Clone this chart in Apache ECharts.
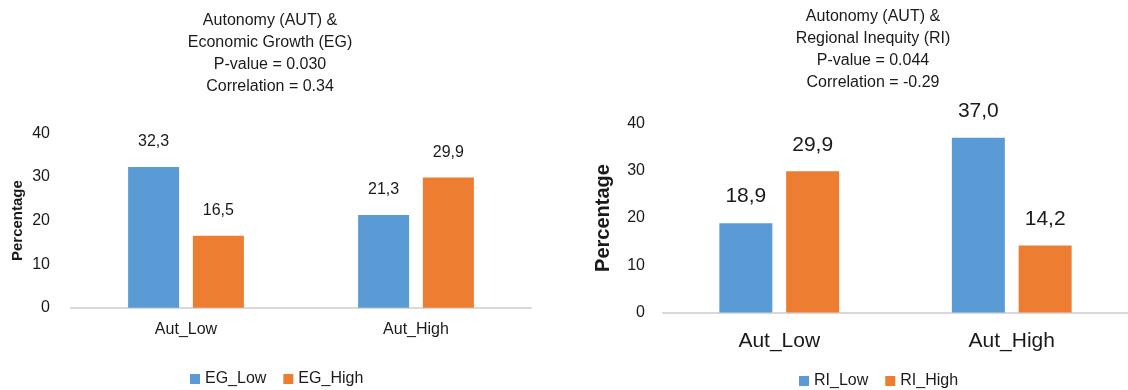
<!DOCTYPE html>
<html>
<head>
<meta charset="utf-8">
<script src="https://cdn.jsdelivr.net/npm/echarts@6/dist/echarts.min.js"></script>
<style>
  html, body { margin: 0; padding: 0; background: #fff; }
  #chart { width: 1128px; height: 390px; }
</style>
</head>
<body>
<div id="chart"></div>
<script>
// Shared categories for both panels
const categories = ['Aut_Low', 'Aut_High'];

// Panel 1: Autonomy vs Economic Growth
const egLow = [32.3, 21.3];
const egHigh = [16.5, 29.9];
const egTitle = ['Autonomy (AUT) &', 'Economic Growth (EG)', 'P-value = 0.030', 'Correlation = 0.34'];

// Panel 2: Autonomy vs Regional Inequity
const riLow = [18.9, 37.0];
const riHigh = [29.9, 14.2];
const riTitle = ['Autonomy (AUT) &', 'Regional Inequity (RI)', 'P-value = 0.044', 'Correlation = -0.29'];

const yTicks = { min: 0, max: 40, interval: 10 };

const FONT = "'Liberation Sans', Arial, sans-serif";
const BLUE = '#5B9BD5';
const ORANGE = '#ED7D31';
const TEXT = '#1a1a1a';

const commaFmt = p => p.value.toFixed(1).replace('.', ',');

function xAxis(gridIndex, fontSize, margin) {
  return {
    type: 'category', gridIndex, data: categories,
    axisLine: { lineStyle: { color: '#d9d9d9', width: 2 } },
    axisTick: { show: false },
    axisLabel: { color: TEXT, fontFamily: FONT, fontSize, margin }
  };
}
function yAxis(gridIndex, nameSize, nameGap, margin) {
  return {
    type: 'value', gridIndex, min: yTicks.min, max: yTicks.max, interval: yTicks.interval,
    name: 'Percentage', nameLocation: 'middle', nameGap,
    nameTextStyle: { color: TEXT, fontFamily: FONT, fontSize: nameSize, fontWeight: 'bold' },
    axisLine: { show: false }, axisTick: { show: false }, splitLine: { show: false },
    axisLabel: { color: TEXT, fontFamily: FONT, fontSize: 16, margin }
  };
}
function bar(name, data, color, idx, width, gap, labelSize, dist) {
  return {
    type: 'bar', name, data, xAxisIndex: idx, yAxisIndex: idx,
    barWidth: width, barGap: gap,
    itemStyle: { color },
    label: { show: true, position: 'top', distance: dist, formatter: commaFmt,
             color: TEXT, fontFamily: FONT, fontSize: labelSize }
  };
}

const chart = echarts.init(document.getElementById('chart'), null, { renderer: 'canvas' });
chart.setOption({
  animation: false,
  backgroundColor: '#fff',
  title: [
    { text: egTitle.join('\n'), left: 265, top: 5, textAlign: 'center',
      textStyle: { color: TEXT, fontFamily: FONT, fontSize: 16, fontWeight: 'normal', lineHeight: 22 } },
    { text: riTitle.join('\n'), left: 868, top: 1, textAlign: 'center',
      textStyle: { color: TEXT, fontFamily: FONT, fontSize: 16, fontWeight: 'normal', lineHeight: 22 } }
  ],
  legend: [
    { data: ['EG_Low', 'EG_High'], left: 185, top: 366, icon: 'rect', itemWidth: 10, itemHeight: 10, itemGap: 17,
      textStyle: { color: TEXT, fontFamily: FONT, fontSize: 16 } },
    { data: ['RI_Low', 'RI_High'], left: 794, top: 368, icon: 'rect', itemWidth: 10, itemHeight: 10, itemGap: 17,
      textStyle: { color: TEXT, fontFamily: FONT, fontSize: 16 } }
  ],
  grid: [
    { left: 71, right: 597, top: 133.5, bottom: 82.3 },
    { left: 663, right: -8, top: 123.5, bottom: 77.5 }
  ],
  xAxis: [xAxis(0, 16, 14), xAxis(1, 21, 18)],
  yAxis: [yAxis(0, 15, 46, 21), yAxis(1, 20, 50, 18)],
  series: [
    bar('EG_Low', egLow, BLUE, 0, 51, '27%', 16, 17),
    bar('EG_High', egHigh, ORANGE, 0, 51, '27%', 16, 17),
    bar('RI_Low', riLow, BLUE, 1, 53, '26%', 21, 16),
    bar('RI_High', riHigh, ORANGE, 1, 53, '26%', 21, 16)
  ]
});
</script>
</body>
</html>
